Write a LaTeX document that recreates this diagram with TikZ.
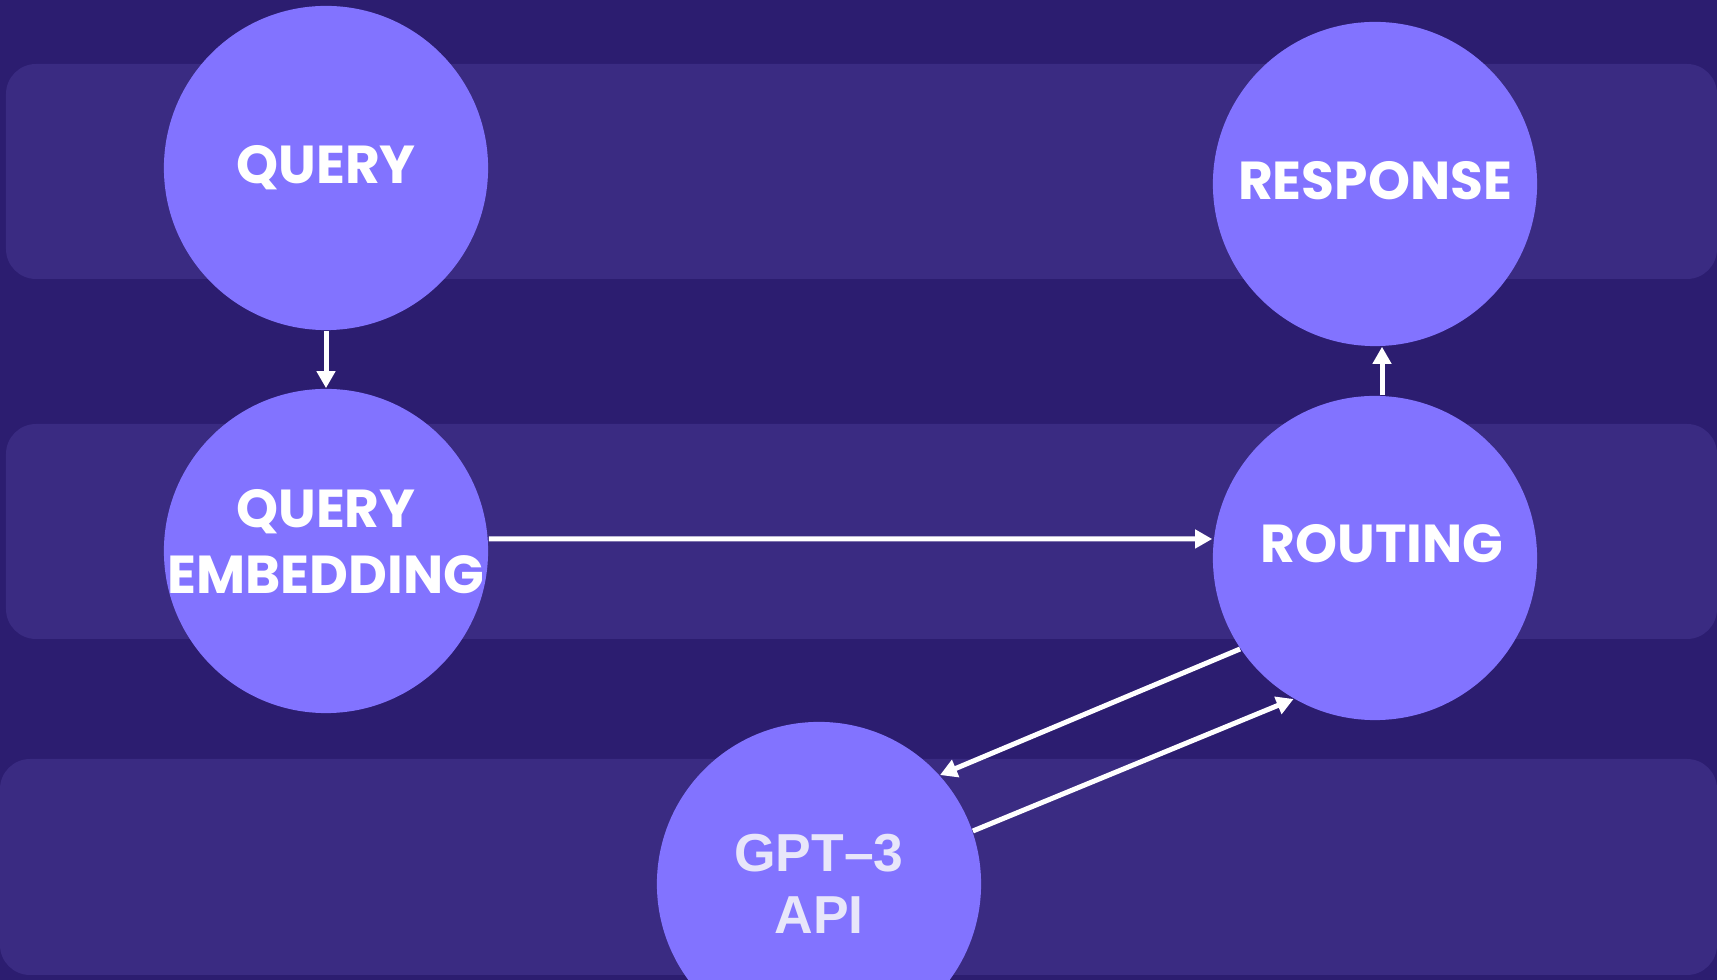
\documentclass[tikz,border=0pt]{standalone}
\usepackage{fontspec}
\setmainfont{Poppins}
\newfontfamily\apifont{Liberation Sans}
\usetikzlibrary{positioning,arrows.meta}

\definecolor{bgnavy}{HTML}{2C1D70}
\definecolor{bandpurple}{HTML}{3A2B82}
\definecolor{circpurple}{HTML}{8273FF}
\definecolor{apitext}{HTML}{E8E6FA}

\tikzset{
    stage/.style={circle, fill=circpurple, minimum size=3.24cm, inner sep=0pt},
    stagetext/.style={align=center, text=white, inner sep=0pt, font=\fontsize{15.2}{18.8}\selectfont\bfseries},
    apitext/.style={stagetext, text=apitext, font=\apifont\fontsize{15.2}{17.8}\selectfont\bfseries},
    flow/.style={draw=white, line width=0.05cm, -{Triangle[length=0.17cm,width=0.18cm]}}
}

\begin{document}
\begin{tikzpicture}[x=0.01cm, y=-0.01cm]
    \useasboundingbox (0,0) rectangle (1717,980);
    \fill [bgnavy] (0,0) rectangle (1717,980);

    % Bands
    \foreach \x/\ytop/\ybot in {6/64/279, 6/424/639, 0/759/975} {
        \fill [bandpurple, rounded corners=0.3cm] (\x,\ytop) rectangle (1717,\ybot);
    }

    % Stages
    \node [stage, label={[stagetext]center:QUERY}] (query) at (326,168) {};
    \node [stage, label={[stagetext, yshift=0.09cm]center:QUERY\\EMBEDDING}] (qemb) at (326,551) {};
    \node [stage, label={[stagetext, yshift=0.03cm]center:RESPONSE}] (response) at (1375,184) {};
    \node [stage, label={[stagetext, xshift=0.07cm, yshift=0.14cm]center:ROUTING}] (routing) at (1375,558) {};
    \node [stage, label={[apitext]center:GPT–3\\API}] (api) at (819,884) {};

    % Flows
    \draw [flow] (query) -- (qemb);
    \draw [flow] ([yshift=0.12cm]qemb.east) -- ([yshift=0.19cm]routing.west);
    \draw [flow] ([xshift=0.07cm]routing.north) -- ([xshift=0.07cm]response.south);
    \draw [flow] (routing.214) -- (api.42);
    \draw [flow] (api.19) -- (routing.240);
\end{tikzpicture}
\end{document}
